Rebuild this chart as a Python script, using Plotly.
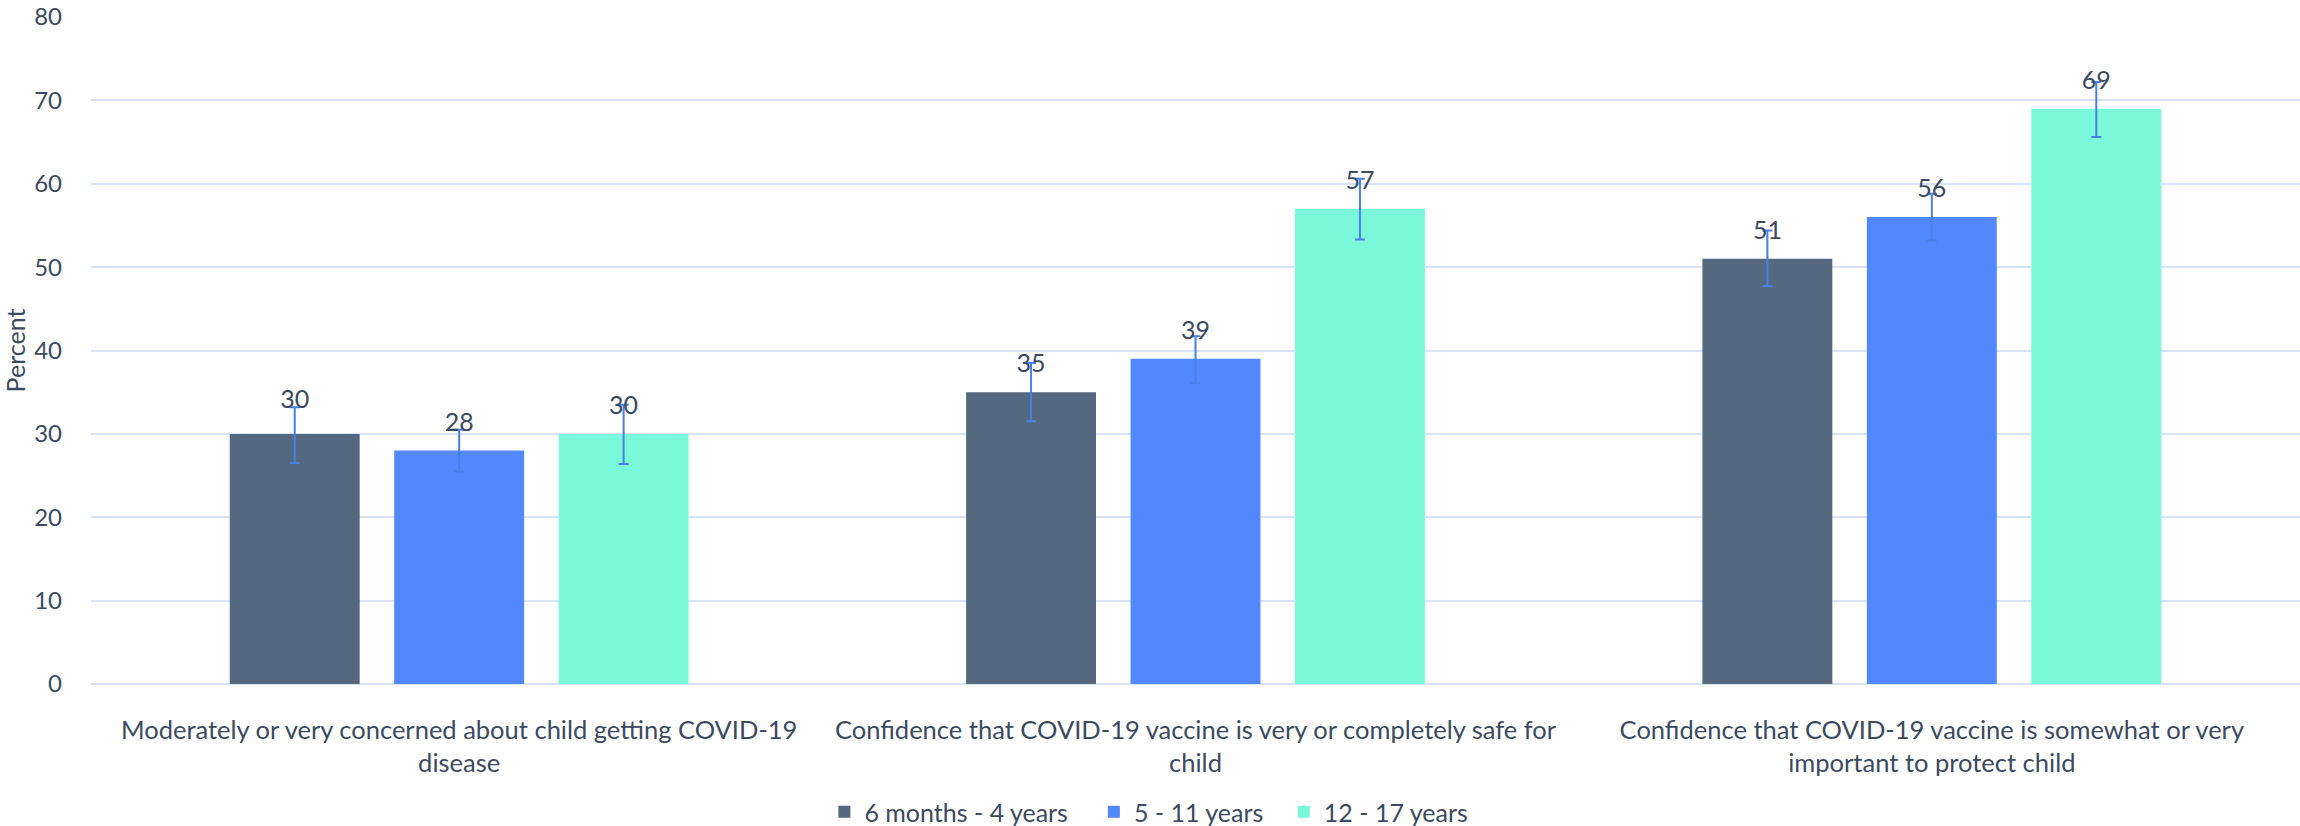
import plotly.graph_objects as go

categories = [
    "Moderately or very concerned about child getting COVID-19<br>disease",
    "Confidence that COVID-19 vaccine is very or completely safe for<br>child",
    "Confidence that COVID-19 vaccine is somewhat or very<br>important to protect child",
]
series_names = ["6 months - 4 years", "5 - 11 years", "12 - 17 years"]

infant_values = [30, 35, 51]
infant_low = [26.5, 31.5, 47.7]
infant_high = [33.2, 38.5, 54.4]

child_values = [28, 39, 56]
child_low = [25.5, 36.1, 53.2]
child_high = [30.5, 41.7, 58.8]

teen_values = [30, 57, 69]
teen_low = [26.4, 53.3, 65.6]
teen_high = [33.5, 60.6, 72.2]

y_ticks = [0, 10, 20, 30, 40, 50, 60, 70, 80]

colors = ["#546980", "#5288FD", "#7BF7D9"]
err_color = "#4A7FE6"
text_color = "#3B4A5F"
grid_color = "#D8E3F6"
font_family = "Lato"

values_list = [infant_values, child_values, teen_values]
lows_list = [infant_low, child_low, teen_low]
highs_list = [infant_high, child_high, teen_high]
label_pad = [[30, 20, 20], [20, 20, 20], [20, 20, 20]]
legend_ids = ["legend", "legend2", "legend3"]
legend_x = [0.332, 0.454, 0.540]

fig = go.Figure()
for name, vals, lows, highs, col, lid in zip(series_names, values_list, lows_list, highs_list, colors, legend_ids):
    fig.add_trace(go.Bar(
        x=categories, y=vals, name=name, offsetgroup=name, legend=lid,
        marker=dict(color=col, line=dict(width=0)),
        error_y=dict(type="data", symmetric=False,
                     array=[h - v for h, v in zip(highs, vals)],
                     arrayminus=[v - l for v, l in zip(vals, lows)],
                     color=err_color, thickness=2, width=5),
    ))

for name, vals, pad in zip(series_names, values_list, label_pad):
    fig.add_trace(go.Scatter(
        x=categories, y=vals, mode="markers+text", offsetgroup=name,
        orientation="v",
        text=[str(v) for v in vals], textposition="top center",
        textfont=dict(family=font_family, size=25, color=text_color),
        marker=dict(size=pad, color="rgba(0,0,0,0)", opacity=0, line=dict(width=0)),
        showlegend=False, hoverinfo="skip", cliponaxis=False,
    ))

legend_common = dict(orientation="h", y=-0.192, yanchor="middle", xanchor="left",
                     font=dict(family=font_family, size=25, color=text_color),
                     bgcolor="rgba(0,0,0,0)", borderwidth=0)

fig.update_layout(
    width=2300, height=870,
    margin=dict(l=91, r=0, t=17, b=186),
    paper_bgcolor="white", plot_bgcolor="white",
    barmode="group", scattermode="group",
    bargap=0.33, bargroupgap=0.21, scattergap=0.33,
    font=dict(family=font_family, color=text_color, size=25),
    legend=dict(x=legend_x[0], **legend_common),
    legend2=dict(x=legend_x[1], **legend_common),
    legend3=dict(x=legend_x[2], **legend_common),
    showlegend=True,
)
fig.update_xaxes(
    type="category", showgrid=False, showline=False, zeroline=False,
    ticks="", ticklabelstandoff=28, automargin=False,
    tickfont=dict(family=font_family, size=25.5, color=text_color),
)
fig.update_yaxes(
    range=[0, 80], tickvals=y_ticks, showgrid=True, gridcolor=grid_color, gridwidth=2,
    zeroline=True, zerolinecolor=grid_color, zerolinewidth=2, showline=False,
    ticks="", ticklabelstandoff=28, automargin=False, ticklabeloverflow="allow",
    tickfont=dict(family=font_family, size=24, color=text_color),
    title=dict(text="Percent", standoff=32, font=dict(family=font_family, size=25, color=text_color)),
)

fig.write_html("out.html", config={"displayModeBar": False},
               post_script="document.body.style.margin='0px';")
